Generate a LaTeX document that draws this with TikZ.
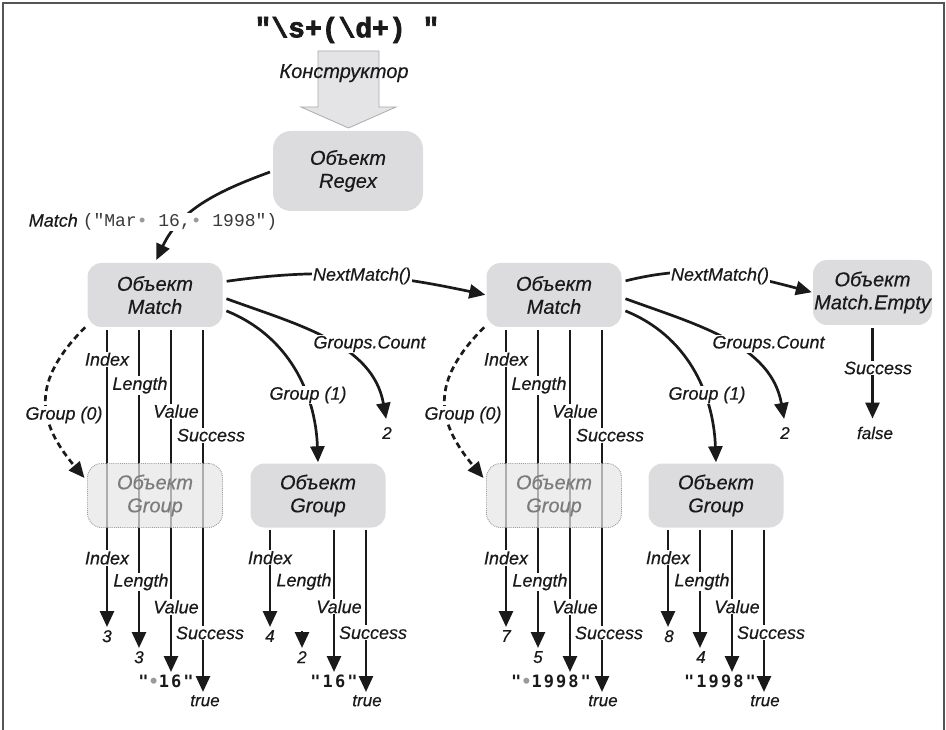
\documentclass[tikz,border=0pt]{standalone}
\usepackage{fontspec}
\setmainfont{Liberation Sans}[ItalicFeatures={FakeBold=0.4}]
\newfontfamily\codefont{Liberation Mono}
\newfontfamily\patfont{Liberation Mono}[BoldFeatures={FakeBold=2.5}]
\newfontfamily\valfont{DejaVu Sans Mono}[LetterSpace=12]
\usetikzlibrary{arrows.meta,calc}

\definecolor{ink}{HTML}{1A1A1A}
\definecolor{codeink}{HTML}{3A3A3A}
\definecolor{boxfill}{HTML}{DCDCDE}
\definecolor{dimfill}{HTML}{E6E6E8}
\definecolor{dimtext}{HTML}{7C7C7C}
\definecolor{dimedge}{HTML}{9C9C9C}
\definecolor{dotgray}{HTML}{9A9A9A}
\definecolor{framegray}{HTML}{555555}
\definecolor{arrowfill}{HTML}{E4E4E6}
\definecolor{arrowedge}{HTML}{ABABAB}

% grey dot standing for a space character
\newcommand\spdot{\textcolor{dotgray}{•}}

\tikzset{
  objbox/.style={fill=boxfill, rounded corners=14pt, minimum width=135pt,
    minimum height=64pt, inner sep=0pt, align=center, text=ink,
    font=\fontsize{20}{23}\selectfont\itshape},
  dimbox/.style={objbox, fill=dimfill, fill opacity=0.72, text opacity=1,
    text=dimtext, draw=dimedge, densely dotted, line width=0.9pt},
  lbl/.style={fill=white, inner sep=1pt, text=ink,
    font=\fontsize{18}{20}\selectfont\itshape},
  numval/.style={anchor=north, inner sep=3pt, text=ink,
    font=\fontsize{17}{19}\selectfont\itshape},
  strval/.style={anchor=north, inner sep=3pt, text=ink,
    font=\fontsize{17}{19}\valfont\bfseries},
  leg/.style={draw=ink, line width=2.7pt, -{Triangle[length=16pt,width=14pt]}},
  dashleg/.style={leg, dash pattern=on 6pt off 4pt},
}

\begin{document}
\begin{tikzpicture}[x=1pt,y=-1pt]
\useasboundingbox (0,0) rectangle (946,730);

% frame
\draw[framegray, line width=1.6pt] (3,730) -- (3,3) -- (944,3) -- (944,730);

% pattern and constructor arrow
\node[font=\fontsize{28}{30}\patfont\bfseries, text=ink] (pat) at (347,30)
  {"\textbackslash s+(\textbackslash d+) "};
\draw[fill=arrowfill, draw=arrowedge, line width=0.8pt]
  (318,51) -- (379,51) -- (379,107) -- (396,107) -- (348.5,128)
  -- (301,107) -- (318,107) -- cycle;
\node[font=\fontsize{20}{22}\selectfont\itshape, text=ink, anchor=base] (ctor)
  at (344,78) {Конструктор};

% objects
\node[objbox, minimum width=150pt, minimum height=80pt, rounded corners=18pt]
  (rx) at (348,171) {Объект\\Regex};
\node[objbox] (m1) at (155,295) {Объект\\Match};
\node[objbox] (m2) at (554,295) {Объект\\Match};
\node[objbox, minimum width=119pt, minimum height=65pt] (me) at (872.5,292.5)
  {Объект\\Match.Empty};
\node[objbox] (g1) at (318,495.5) {Объект\\Group};
\node[objbox] (g3) at (716,495.5) {Объект\\Group};

% property values
\node[numval] (a1) at (107,627) {3};
\node[numval] (a2) at (139,648) {3};
\node[strval] (a3) at (166,672) {"\spdot16"};
\node[numval] (a4) at (205,692) {true};

\node[numval] (b1) at (270,627) {4};
\node[numval] (b2) at (302,648) {2};
\node[strval] (b3) at (334,672) {"16"};
\node[numval] (b4) at (367,692) {true};

\node[numval] (c1) at (506,627) {7};
\node[numval] (c2) at (538,648) {5};
\node[strval] (c3) at (551,672) {"\spdot1998"};
\node[numval] (c4) at (603,692) {true};

\node[numval] (d1) at (669,627) {8};
\node[numval] (d2) at (701,648) {4};
\node[strval] (d3) at (720,672) {"1998"};
\node[numval] (d4) at (765,692) {true};

% tops of the property columns
\foreach \i/\dx in {1/-48,2/-16,3/16,4/48}{
  \coordinate (m1-c\i) at ($(m1.south)+(\dx,3)$);
  \coordinate (m2-c\i) at ($(m2.south)+(\dx,3)$);
  \coordinate (g1-c\i) at ($(g1.south)+(\dx,2)$);
  \coordinate (g3-c\i) at ($(g3.south)+(\dx,2)$);
}
\coordinate (g1-stub) at ($(b2.north)+(0,-17)$);

% property arrows
\foreach \c/\v in {m1-c1/a1, m1-c2/a2, m1-c3/a3, m1-c4/a4,
                   m2-c1/c1, m2-c2/c2, m2-c3/c3, m2-c4/c4,
                   g1-c1/b1, g1-c3/b3, g1-c4/b4,
                   g3-c1/d1, g3-c2/d2, g3-c3/d3, g3-c4/d4}
  \draw[leg] (\c) -- (\c |- \v.north);
\draw[leg] (g1-stub) -- (b2.north);

% Group(0) objects, seen through
\node[dimbox] (g0) at (155,495.5) {Объект\\Group};
\node[dimbox] (g2) at (554,495.5) {Объект\\Group};
\foreach \i/\dx in {1/-48,2/-16,3/16,4/48}{
  \coordinate (g0-c\i) at ($(g0.south)+(\dx,2)$);
  \coordinate (g2-c\i) at ($(g2.south)+(\dx,2)$);
}

% property names, Match level
\foreach \g in {m1,m2}{
  \node[lbl] (\g-idx) at ($(\g-c1)+(0,29)$) {Index};
  \node[lbl] (\g-len) at ($(\g-c2)+(1,55)$) {Length};
  \node[lbl] (\g-val) at ($(\g-c3)+(5,81)$) {Value};
  \node[lbl] (\g-suc) at ($(\g-c4)+(8,105)$) {Success};
}
% property names, Group level
\foreach \g in {g0,g1,g2,g3}{
  \node[lbl] (\g-idx) at ($(\g-c1)+(0,28)$) {Index};
  \node[lbl] (\g-len) at ($(\g-c2)+(2,52)$) {Length};
  \node[lbl] (\g-val) at ($(\g-c3)+(5,77)$) {Value};
  \node[lbl] (\g-suc) at ($(\g-c4)+(7,103)$) {Success};
}

% Regex.Match(...)
\draw[leg, shorten <=3pt, shorten >=3pt] (rx.west) to[out=200,in=65] (m1.north);
\node[lbl] (mcall) at (153,222)
  {Match {\upshape\codefont\color{codeink}("Mar\textcolor{dotgray}{•} 16,\textcolor{dotgray}{•} 1998")}};

% NextMatch()
\draw[leg, shorten <=4pt, shorten >=1pt] (m1.11) to[out=8,in=168] (m2.west);
\node[lbl] (nm1) at (362,276) {NextMatch()};
\draw[leg, shorten <=4pt, shorten >=1pt] (m2.11) to[out=14,in=165] (me.west);
\node[lbl] (nm2) at (720,276) {NextMatch()};

% Groups.Count
\node[numval, anchor=center] (n1) at (387,433) {2};
\node[numval, anchor=center] (n2) at (785,433) {2};
\draw[leg, shorten <=4pt, shorten >=5pt] (m1.-2) to[out=-20,in=100] (n1.north);
\draw[leg, shorten <=4pt, shorten >=5pt] (m2.-2) to[out=-20,in=100] (n2.north);
\node[lbl] (gc1) at (369.5,344) {Groups.Count};
\node[lbl] (gc2) at (768.5,344) {Groups.Count};

% Group(1)
\draw[leg, shorten <=4pt, shorten >=1pt] (m1.-12) to[out=-22,in=92] (g1.north);
\draw[leg, shorten <=4pt, shorten >=1pt] (m2.-12) to[out=-22,in=92] (g3.north);
\node[lbl] (gr1a) at (308,395) {Group (1)};
\node[lbl] (gr1b) at (707,395) {Group (1)};

% Group(0)
\draw[dashleg, shorten <=3pt, shorten >=4pt] (m1.204)
  to[out=225,in=130,looseness=1.3] (g0.168);
\draw[dashleg, shorten <=3pt, shorten >=4pt] (m2.204)
  to[out=225,in=130,looseness=1.3] (g2.168);
\node[lbl] (gr0a) at (64,415) {Group (0)};
\node[lbl] (gr0b) at (463,415) {Group (0)};

% Match.Empty.Success
\coordinate (me-c) at ($(me.south)+(0,3)$);
\node[numval, anchor=center] (fls) at (875,433) {false};
\draw[leg, shorten >=5pt] (me-c) -- (me-c |- fls.north);
\node[lbl] (me-suc) at (878,368) {Success};
\end{tikzpicture}
\end{document}
